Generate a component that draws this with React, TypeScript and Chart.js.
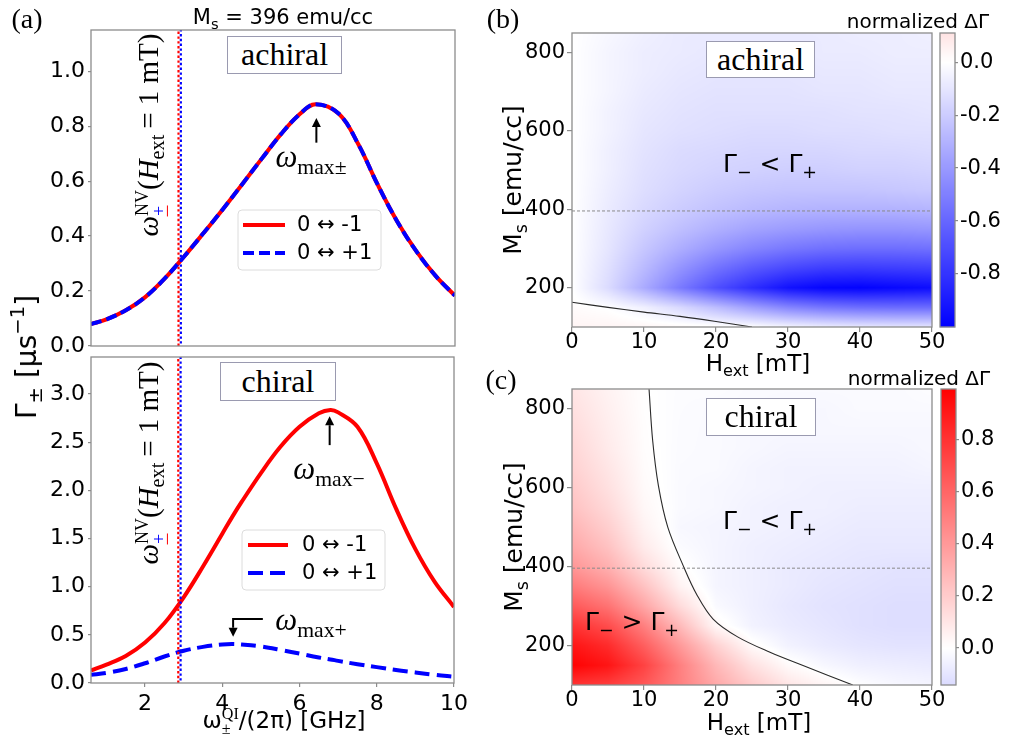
import React, { useEffect, useRef } from "react";
import { Chart, registerables } from "chart.js";

Chart.register(...registerables);

/* ======================= DATA ======================= */
// (a) upper panel: achiral — both transitions coincide
const freqAchiral = [0.6, 1, 1.5, 2, 2.5, 3, 3.5, 4, 4.5, 5, 5.5, 6, 6.4, 7, 7.5, 8, 8.5, 9, 9.5, 10];
const gammaAchiralMinus = [0.08, 0.097, 0.13, 0.178, 0.245, 0.325, 0.41, 0.497, 0.588, 0.68, 0.77, 0.845, 0.88, 0.845, 0.735, 0.588, 0.455, 0.345, 0.255, 0.183];
const gammaAchiralPlus = [0.08, 0.097, 0.13, 0.178, 0.245, 0.325, 0.41, 0.497, 0.588, 0.68, 0.77, 0.845, 0.88, 0.845, 0.735, 0.588, 0.455, 0.345, 0.255, 0.183];
// (a) lower panel: chiral
const freqChiral = [0.6, 1, 1.5, 2, 2.5, 3, 3.5, 4, 4.25, 4.5, 5, 5.5, 6, 6.5, 6.8, 7, 7.5, 8, 8.5, 9, 9.5, 10];
const gammaChiralMinus = [0.13, 0.19, 0.28, 0.42, 0.62, 0.89, 1.21, 1.55, 1.72, 1.88, 2.18, 2.45, 2.66, 2.8, 2.835, 2.81, 2.66, 2.28, 1.81, 1.39, 1.05, 0.79];
const gammaChiralPlus = [0.085, 0.105, 0.145, 0.205, 0.275, 0.335, 0.375, 0.4, 0.405, 0.4, 0.38, 0.345, 0.305, 0.265, 0.245, 0.23, 0.195, 0.165, 0.135, 0.11, 0.085, 0.065];
const nvFreqMinus = 2.86;
const nvFreqPlus = 2.92;
const freqRange = [0.6, 10];
const gammaTopRange = [0, 1.15];
const gammaBottomRange = [0, 3.385];
const freqTicks = [2, 4, 6, 8, 10];
const gammaTopTicks = [0, 0.2, 0.4, 0.6, 0.8, 1.0];
const gammaBottomTicks = [0, 0.5, 1, 1.5, 2, 2.5, 3];
const legendLabels = ["0 \u2194 -1", "0 \u2194 +1"];

// (b),(c) maps: normalized ΔΓ on an H_ext × M_s grid
const hField = [0, 5, 10, 15, 20, 25, 30, 35, 40, 45, 50];
const msValues = [100, 150, 200, 250, 300, 350, 400, 450, 500, 550, 600, 650, 700, 750, 800, 850];
const achiralDelta = [
  [0.04, 0.04, 0.035, 0.025, 0.015, 0.0, -0.04, -0.07, -0.09, -0.1, -0.1],
  [0.015, -0.005, -0.06, -0.15, -0.26, -0.38, -0.48, -0.54, -0.57, -0.58, -0.58],
  [0, -0.14, -0.33, -0.52, -0.69, -0.82, -0.93, -0.98, -0.99, -0.97, -0.95],
  [0, -0.12, -0.27, -0.42, -0.55, -0.65, -0.72, -0.76, -0.77, -0.76, -0.75],
  [0, -0.1, -0.22, -0.32, -0.41, -0.48, -0.53, -0.56, -0.57, -0.57, -0.56],
  [0, -0.09, -0.18, -0.25, -0.31, -0.36, -0.39, -0.41, -0.42, -0.42, -0.41],
  [0, -0.08, -0.15, -0.2, -0.24, -0.27, -0.29, -0.3, -0.3, -0.3, -0.29],
  [0, -0.07, -0.13, -0.17, -0.2, -0.22, -0.23, -0.23, -0.23, -0.22, -0.21],
  [0, -0.06, -0.12, -0.15, -0.17, -0.18, -0.19, -0.19, -0.18, -0.18, -0.17],
  [0, -0.06, -0.11, -0.14, -0.15, -0.16, -0.16, -0.16, -0.15, -0.15, -0.14],
  [0, -0.05, -0.1, -0.12, -0.13, -0.14, -0.14, -0.13, -0.13, -0.12, -0.12],
  [0, -0.05, -0.09, -0.11, -0.12, -0.12, -0.12, -0.12, -0.11, -0.11, -0.1],
  [0, -0.04, -0.08, -0.1, -0.11, -0.11, -0.11, -0.1, -0.1, -0.09, -0.09],
  [0, -0.04, -0.07, -0.09, -0.1, -0.1, -0.1, -0.09, -0.09, -0.08, -0.08],
  [0, -0.04, -0.07, -0.08, -0.09, -0.09, -0.09, -0.08, -0.08, -0.07, -0.07],
  [0, -0.03, -0.06, -0.08, -0.08, -0.08, -0.08, -0.08, -0.07, -0.07, -0.06],
];
const chiralDelta = [
  [0.8, 0.76, 0.66, 0.5, 0.34, 0.21, 0.1, 0.04, -0.005, -0.03, -0.04],
  [0.99, 0.92, 0.74, 0.5, 0.28, 0.12, 0.02, -0.03, -0.06, -0.07, -0.08],
  [0.92, 0.83, 0.63, 0.4, 0.18, 0.02, -0.05, -0.08, -0.1, -0.11, -0.11],
  [0.8, 0.7, 0.5, 0.27, 0.03, -0.05, -0.08, -0.1, -0.12, -0.13, -0.13],
  [0.65, 0.55, 0.35, 0.14, -0.02, -0.06, -0.09, -0.11, -0.12, -0.13, -0.13],
  [0.52, 0.42, 0.24, 0.05, -0.04, -0.06, -0.08, -0.1, -0.11, -0.12, -0.12],
  [0.41, 0.31, 0.14, 0.01, -0.04, -0.06, -0.08, -0.09, -0.1, -0.11, -0.11],
  [0.34, 0.24, 0.08, -0.015, -0.04, -0.06, -0.07, -0.08, -0.09, -0.09, -0.09],
  [0.29, 0.19, 0.05, -0.03, -0.04, -0.05, -0.06, -0.07, -0.08, -0.08, -0.08],
  [0.24, 0.15, 0.03, -0.02, -0.03, -0.05, -0.06, -0.06, -0.07, -0.07, -0.07],
  [0.21, 0.12, 0.02, -0.02, -0.03, -0.04, -0.05, -0.06, -0.06, -0.06, -0.06],
  [0.18, 0.1, 0.014, -0.018, -0.02, -0.04, -0.05, -0.05, -0.05, -0.05, -0.04],
  [0.16, 0.08, 0.01, -0.016, -0.02, -0.03, -0.04, -0.04, -0.04, -0.04, -0.03],
  [0.14, 0.07, 0.008, -0.015, -0.02, -0.03, -0.03, -0.03, -0.03, -0.03, -0.03],
  [0.12, 0.06, 0.005, -0.013, -0.02, -0.02, -0.03, -0.03, -0.02, -0.02, -0.02],
  [0.1, 0.05, 0.004, -0.012, -0.01, -0.02, -0.02, -0.02, -0.02, -0.02, -0.01],
];
// zero-contours (Γ− = Γ+)
const achiralZeroH = [0, 5, 10, 15, 20, 25];
const achiralZeroMs = [163, 150, 138, 127, 114, 100];
const chiralZeroH = [10.7, 11.2, 12.0, 13.3, 15.5, 17.3, 19.6, 23, 27.5, 32, 39];
const chiralZeroMs = [850, 720, 605, 500, 400, 330, 267, 222, 183, 150, 100];
const msMarker = 396;
const hRange = [0, 50];
const msRange = [100, 850];
const hTicks = [0, 10, 20, 30, 40, 50];
const msTicks = [200, 400, 600, 800];
const cbAchiralRange = [-1.0, 0.11];
const cbChiralRange = [-0.142, 0.996];
const cbAchiralTicks = [0, -0.2, -0.4, -0.6, -0.8];
const cbChiralTicks = [0, 0.2, 0.4, 0.6, 0.8];

/* ======================= STYLE / LAYOUT ======================= */
const AXIS_GREY = "#8c8c8c";
const SANS = "'DejaVu Sans', sans-serif";
const SERIF = "'Liberation Serif', 'DejaVu Serif', serif";
const RED = "#ff0000";
const BLUE = "#0000ff";

type Place = { left: number; top: number; width: number; height: number };
type Area = { l: number; t: number; r: number; b: number };

const PLACE_A_TOP: Place = { left: 0, top: 0, width: 474, height: 360 };
const AREA_A_TOP: Area = { l: 91, t: 30, r: 455, b: 357 };
const PLACE_A_BOT: Place = { left: 0, top: 340, width: 474, height: 403 };
const AREA_A_BOT: Area = { l: 91, t: 357, r: 455, b: 683 };
const PLACE_B: Place = { left: 480, top: 0, width: 472, height: 358 };
const AREA_B: Area = { l: 572, t: 33, r: 932, b: 327 };
const PLACE_C: Place = { left: 480, top: 362, width: 472, height: 381 };
const AREA_C: Area = { l: 572, t: 389, r: 932, b: 685 };
const PLACE_CB_B: Place = { left: 930, top: 0, width: 81, height: 340 };
const AREA_CB_B: Area = { l: 940, t: 33, r: 955, b: 327 };
const PLACE_CB_C: Place = { left: 930, top: 370, width: 81, height: 330 };
const AREA_CB_C: Area = { l: 941, t: 389, r: 956, b: 685 };

/* ======================= HELPERS ======================= */
function bwr(v: number): [number, number, number] {
  const t = Math.max(0, Math.min(1, (v + 1) / 2));
  if (t < 0.5) {
    const c = Math.round(510 * t);
    return [c, c, 255];
  }
  const c = Math.round(510 * (1 - t));
  return [255, c, c];
}

function locate(arr: number[], v: number) {
  const n = arr.length;
  if (v <= arr[0]) return { i: 0, t: 0 };
  if (v >= arr[n - 1]) return { i: n - 2, t: 1 };
  let i = 0;
  while (arr[i + 1] < v) i++;
  return { i, t: (v - arr[i]) / (arr[i + 1] - arr[i]) };
}

function sampleGrid(grid: number[][], x: number, y: number) {
  const a = locate(hField, x);
  const b = locate(msValues, y);
  const r0 = grid[b.i];
  const r1 = grid[b.i + 1];
  const v0 = r0[a.i] * (1 - a.t) + r0[a.i + 1] * a.t;
  const v1 = r1[a.i] * (1 - a.t) + r1[a.i + 1] * a.t;
  return v0 * (1 - b.t) + v1 * b.t;
}

const pts = (xs: number[], ys: number[]) => xs.map((x, i) => ({ x, y: ys[i] }));

const framePlugin = {
  id: "frame",
  afterDraw(chart: any) {
    const { left, top, right, bottom } = chart.chartArea;
    const ctx = chart.ctx;
    ctx.save();
    ctx.strokeStyle = AXIS_GREY;
    ctx.lineWidth = 1.3;
    ctx.strokeRect(left, top, right - left, bottom - top);
    ctx.restore();
  },
};

function heatPlugin(grid: number[][]) {
  return {
    id: "heat",
    beforeDatasetsDraw(chart: any) {
      const { left, top, right, bottom } = chart.chartArea;
      const w = Math.round(right - left);
      const h = Math.round(bottom - top);
      const off = document.createElement("canvas");
      off.width = w;
      off.height = h;
      const octx = off.getContext("2d")!;
      const img = octx.createImageData(w, h);
      const xs = chart.scales.x;
      const ys = chart.scales.y;
      for (let py = 0; py < h; py++) {
        const ms = ys.getValueForPixel(top + py + 0.5);
        for (let px = 0; px < w; px++) {
          const hv = xs.getValueForPixel(left + px + 0.5);
          const [r, g, b] = bwr(sampleGrid(grid, hv, ms));
          const k = (py * w + px) * 4;
          img.data[k] = r;
          img.data[k + 1] = g;
          img.data[k + 2] = b;
          img.data[k + 3] = 255;
        }
      }
      octx.putImageData(img, 0, 0);
      chart.ctx.drawImage(off, left, top, right - left, bottom - top);
    },
  };
}

const colorbarPlugin = {
  id: "cbar",
  beforeDatasetsDraw(chart: any) {
    const { left, top, right, bottom } = chart.chartArea;
    const ctx = chart.ctx;
    const ys = chart.scales.y;
    for (let y = top; y < bottom; y += 1) {
      const v = ys.getValueForPixel(y + 0.5);
      const [r, g, b] = bwr(v);
      ctx.fillStyle = `rgb(${r},${g},${b})`;
      ctx.fillRect(left, y, right - left, 1.2);
    }
  },
};

function tickScale(
  axis: "x" | "y",
  range: number[],
  ticks: number[],
  fmt: (v: number) => string,
  size: number,
  fontSize: number,
  opts: any = {}
) {
  return {
    type: "linear",
    position: opts.position || (axis === "x" ? "bottom" : "left"),
    min: range[0],
    max: range[1],
    display: opts.display === undefined ? true : opts.display,
    afterBuildTicks: (s: any) => {
      s.ticks = ticks.map((v) => ({ value: v }));
    },
    afterFit: (s: any) => {
      if (axis === "x") s.height = size;
      else s.width = size;
    },
    ticks: {
      display: opts.showLabels === undefined ? true : opts.showLabels,
      callback: (v: any) => fmt(Number(v)),
      font: { family: SANS, size: fontSize, lineHeight: 1 },
      color: "#000",
      padding: opts.padding === undefined ? 2 : opts.padding,
      maxRotation: 0,
      autoSkip: false,
    },
    grid: {
      display: opts.showGrid === undefined ? true : opts.showGrid,
      drawOnChartArea: false,
      drawTicks: true,
      tickLength: opts.tickLength || 4,
      color: AXIS_GREY,
      lineWidth: 1.2,
    },
    border: { display: false },
  };
}

function drawArrow(ctx: any, p: number[][]) {
  ctx.save();
  ctx.strokeStyle = "#000";
  ctx.fillStyle = "#000";
  ctx.lineWidth = 2;
  const n = p.length;
  const [x1, y1] = p[n - 1];
  const [x0, y0] = p[n - 2];
  const ang = Math.atan2(y1 - y0, x1 - x0);
  const hl = 9;
  const hw = 4.5;
  const bx = x1 - hl * Math.cos(ang);
  const by = y1 - hl * Math.sin(ang);
  ctx.beginPath();
  ctx.moveTo(p[0][0], p[0][1]);
  for (let i = 1; i < n - 1; i++) ctx.lineTo(p[i][0], p[i][1]);
  ctx.lineTo(bx, by);
  ctx.stroke();
  ctx.beginPath();
  ctx.moveTo(x1, y1);
  ctx.lineTo(bx + hw * Math.sin(ang), by - hw * Math.cos(ang));
  ctx.lineTo(bx - hw * Math.sin(ang), by + hw * Math.cos(ang));
  ctx.closePath();
  ctx.fill();
  ctx.restore();
}

function drawLegend(ctx: any, place: Place, box: { x: number; y: number; w: number; h: number }, lineX: number[], textX: number, rowY: number[], dash: number[]) {
  const ox = place.left;
  const oy = place.top;
  ctx.save();
  ctx.beginPath();
  const r = 4;
  const x = box.x - ox;
  const y = box.y - oy;
  ctx.moveTo(x + r, y);
  ctx.arcTo(x + box.w, y, x + box.w, y + box.h, r);
  ctx.arcTo(x + box.w, y + box.h, x, y + box.h, r);
  ctx.arcTo(x, y + box.h, x, y, r);
  ctx.arcTo(x, y, x + box.w, y, r);
  ctx.closePath();
  ctx.fillStyle = "rgba(255,255,255,0.85)";
  ctx.fill();
  ctx.strokeStyle = "#dcdcdc";
  ctx.lineWidth = 1;
  ctx.stroke();
  const colors = [RED, BLUE];
  const dashes = [[], dash];
  for (let i = 0; i < 2; i++) {
    ctx.beginPath();
    ctx.setLineDash(dashes[i]);
    ctx.strokeStyle = colors[i];
    ctx.lineWidth = 4;
    ctx.moveTo(lineX[0] - ox, rowY[i] - oy);
    ctx.lineTo(lineX[1] - ox, rowY[i] - oy);
    ctx.stroke();
  }
  ctx.setLineDash([]);
  ctx.fillStyle = "#000";
  ctx.font = `21px ${SANS}`;
  ctx.textBaseline = "middle";
  ctx.textAlign = "left";
  for (let i = 0; i < 2; i++) ctx.fillText(legendLabels[i], textX - ox, rowY[i] - oy + 1);
  ctx.restore();
}

function padding(place: Place, area: Area, bottom = 0) {
  return {
    left: 0,
    top: area.t - place.top,
    right: place.left + place.width - area.r,
    bottom,
  };
}

const fmt1 = (v: number) => v.toFixed(1);
const fmt0 = (v: number) => String(Math.round(v));

function lineChart(
  canvas: HTMLCanvasElement,
  place: Place,
  area: Area,
  freq: number[],
  minus: number[],
  plus: number[],
  yRange: number[],
  yTicks: number[],
  showX: boolean,
  dash: number[],
  extra: (ctx: any, chart: any) => void
) {
  const nvData = (f: number) => [
    { x: f, y: yRange[0] },
    { x: f, y: yRange[1] },
  ];
  const base = { showLine: true, pointRadius: 0, fill: false, tension: 0.38 };
  return new Chart(canvas, {
    type: "scatter",
    data: {
      datasets: [
        { ...base, tension: 0, data: nvData(nvFreqMinus), borderColor: RED, borderWidth: 2.2, borderDash: [2.4, 2.4], order: 0 },
        { ...base, tension: 0, data: nvData(nvFreqPlus), borderColor: BLUE, borderWidth: 2.2, borderDash: [2.4, 2.4], borderDashOffset: 2.4, order: 0 },
        { ...base, data: pts(freq, plus), borderColor: BLUE, borderWidth: 4, borderDash: dash, order: 1 },
        { ...base, data: pts(freq, minus), borderColor: RED, borderWidth: 4, order: 2 },
      ],
    } as any,
    options: {
      animation: false,
      responsive: false,
      events: [],
      layout: { padding: padding(place, area) },
      plugins: { legend: { display: false }, tooltip: { enabled: false } },
      scales: {
        x: tickScale("x", freqRange, freqTicks, fmt0, place.top + place.height - area.b, 22, {
          showLabels: showX,
          showGrid: showX,
          tickLength: 4,
          padding: 6,
        }),
        y: tickScale("y", yRange, yTicks, fmt1, area.l - place.left, 22, { tickLength: 3, padding: 3 }),
      },
    } as any,
    plugins: [
      framePlugin,
      {
        id: "annot",
        afterDraw(chart: any) {
          extra(chart.ctx, chart);
        },
      },
    ],
  } as any);
}

function heatChart(canvas: HTMLCanvasElement, place: Place, area: Area, grid: number[][], zh: number[], zm: number[]) {
  const base = { showLine: true, pointRadius: 0, fill: false };
  return new Chart(canvas, {
    type: "scatter",
    data: {
      datasets: [
        { ...base, data: pts(zh, zm), borderColor: "#2a2a2a", borderWidth: 1.1, tension: 0.35 },
        {
          ...base,
          data: [
            { x: hRange[0], y: msMarker },
            { x: hRange[1], y: msMarker },
          ],
          borderColor: "#8a8a8a",
          borderWidth: 1,
          borderDash: [3, 2],
        },
      ],
    } as any,
    options: {
      animation: false,
      responsive: false,
      events: [],
      layout: { padding: padding(place, area) },
      plugins: { legend: { display: false }, tooltip: { enabled: false } },
      scales: {
        x: tickScale("x", hRange, hTicks, fmt0, place.top + place.height - area.b, 21, { tickLength: 5, padding: 0 }),
        y: tickScale("y", msRange, msTicks, fmt0, area.l - place.left, 21, { tickLength: 5, padding: 2 }),
      },
    } as any,
    plugins: [heatPlugin(grid), framePlugin],
  } as any);
}

function colorbarChart(canvas: HTMLCanvasElement, place: Place, area: Area, range: number[], ticks: number[]) {
  return new Chart(canvas, {
    type: "scatter",
    data: { datasets: [] },
    options: {
      animation: false,
      responsive: false,
      events: [],
      layout: {
        padding: { left: area.l - place.left, top: area.t - place.top, right: 0, bottom: place.top + place.height - area.b },
      },
      plugins: { legend: { display: false }, tooltip: { enabled: false } },
      scales: {
        x: { type: "linear", display: false, min: 0, max: 1 },
        y: tickScale("y", range, ticks, fmt1, place.left + place.width - area.r, 21, {
          position: "right",
          tickLength: 3,
          padding: 2,
        }),
      },
    } as any,
    plugins: [colorbarPlugin, framePlugin],
  } as any);
}

/* ======================= COMPONENTS ======================= */
function ChartBox({ place, make }: { place: Place; make: (c: HTMLCanvasElement) => Chart }) {
  const ref = useRef<HTMLCanvasElement>(null);
  useEffect(() => {
    const ch = make(ref.current as HTMLCanvasElement);
    return () => ch.destroy();
  }, []);
  return (
    <canvas
      ref={ref}
      width={place.width}
      height={place.height}
      style={{ position: "absolute", left: place.left, top: place.top, width: place.width, height: place.height }}
    />
  );
}

function Label({ x, y, size, font = SANS, rotate = false, children, style = {} }: any) {
  return (
    <div
      style={{
        position: "absolute",
        left: x,
        top: y,
        transform: `translate(-50%, -50%)${rotate ? " rotate(-90deg)" : ""}`,
        fontSize: size,
        fontFamily: font,
        lineHeight: 1,
        whiteSpace: "nowrap",
        color: "#000",
        ...style,
      }}
    >
      {children}
    </div>
  );
}

const Sub = ({ children, style = {} }: any) => (
  <span style={{ fontSize: "0.7em", position: "relative", top: "0.32em", lineHeight: 0, ...style }}>{children}</span>
);
const Sup = ({ children }: any) => (
  <span style={{ fontSize: "0.7em", position: "relative", top: "-0.6em", lineHeight: 0 }}>{children}</span>
);
const Stack = ({ top, bottom, font, scale = 0.62 }: any) => (
  <span
    style={{
      display: "inline-flex",
      flexDirection: "column",
      alignItems: "flex-start",
      fontSize: `${scale}em`,
      lineHeight: 0.95,
      position: "relative",
      top: "-0.55em",
      fontFamily: font,
      verticalAlign: "baseline",
    }}
  >
    <span>{top}</span>
    <span>{bottom}</span>
  </span>
);
const PlusMinusNV = () => (
  <span style={{ display: "inline-block", color: BLUE, borderBottom: `0.11em solid ${RED}`, lineHeight: 0.75 }}>+</span>
);

function TagBox({ left, top, width, height, text }: any) {
  return (
    <div
      style={{
        position: "absolute",
        left,
        top,
        width,
        height,
        boxSizing: "border-box",
        border: "1.5px solid #9a9ab0",
        background: "#fff",
        display: "flex",
        alignItems: "center",
        justifyContent: "center",
        fontFamily: SERIF,
        fontSize: 32,
        lineHeight: 1,
        color: "#000",
      }}
    >
      <span style={{ position: "relative", top: -1 }}>{text}</span>
    </div>
  );
}

const NVLabel = () => (
  <>
    <i>ω</i>
    <Stack top="NV" bottom={<PlusMinusNV />} />
    (<i>H</i>
    <Sub>ext</Sub>
    {"\u2009= 1 mT)"}
  </>
);

export default function App() {
  return (
    <div style={{ position: "fixed", left: 0, top: 0, width: 1011, height: 743, background: "#fff", overflow: "hidden" }}>
      <ChartBox
        place={PLACE_A_TOP}
        make={(c) =>
          lineChart(c, PLACE_A_TOP, AREA_A_TOP, freqAchiral, gammaAchiralMinus, gammaAchiralPlus, gammaTopRange, gammaTopTicks, false, [11, 5], (ctx, ch) => {
            const X = (v: number) => ch.scales.x.getPixelForValue(v);
            const Y = (v: number) => ch.scales.y.getPixelForValue(v);
            drawArrow(ctx, [
              [X(6.42), Y(0.74)],
              [X(6.42), Y(0.83)],
            ]);
            drawLegend(ctx, PLACE_A_TOP, { x: 238, y: 210, w: 143, h: 60 }, [243, 285], 297, [225, 253], [11, 5]);
          })
        }
      />
      <ChartBox
        place={PLACE_A_BOT}
        make={(c) =>
          lineChart(c, PLACE_A_BOT, AREA_A_BOT, freqChiral, gammaChiralMinus, gammaChiralPlus, gammaBottomRange, gammaBottomTicks, true, [15, 7], (ctx, ch) => {
            const X = (v: number) => ch.scales.x.getPixelForValue(v);
            const Y = (v: number) => ch.scales.y.getPixelForValue(v);
            drawArrow(ctx, [
              [X(6.78), Y(2.47)],
              [X(6.78), Y(2.77)],
            ]);
            drawArrow(ctx, [
              [X(5.05), Y(0.665)],
              [X(4.28), Y(0.665)],
              [X(4.28), Y(0.48)],
            ]);
            drawLegend(ctx, PLACE_A_BOT, { x: 242, y: 530, w: 143, h: 60 }, [248, 288], 302, [545, 573], [15, 7]);
          })
        }
      />
      <ChartBox place={PLACE_CB_B} make={(c) => colorbarChart(c, PLACE_CB_B, AREA_CB_B, cbAchiralRange, cbAchiralTicks)} />
      <ChartBox place={PLACE_CB_C} make={(c) => colorbarChart(c, PLACE_CB_C, AREA_CB_C, cbChiralRange, cbChiralTicks)} />
      <ChartBox place={PLACE_B} make={(c) => heatChart(c, PLACE_B, AREA_B, achiralDelta, achiralZeroH, achiralZeroMs)} />
      <ChartBox place={PLACE_C} make={(c) => heatChart(c, PLACE_C, AREA_C, chiralDelta, chiralZeroH, chiralZeroMs)} />

      {/* panel (a) texts */}
      <Label x={27} y={19} size={28} font={SERIF}>(a)</Label>
      <Label x={283} y={17} size={21}>
        M<Sub>s</Sub> = 396 emu/cc
      </Label>
      <TagBox left={227} top={36} width={115} height={38} text="achiral" />
      <TagBox left={220} top={362} width={116} height={39} text="chiral" />
      <Label x={156} y={135} size={29} font={SERIF} rotate>
        <NVLabel />
      </Label>
      <Label x={156} y={463} size={29} font={SERIF} rotate>
        <NVLabel />
      </Label>
      <Label x={311} y={156} size={31} font={SERIF}>
        <i>ω</i>
        <Sub>max±</Sub>
      </Label>
      <Label x={329} y={468} size={31} font={SERIF}>
        <i>ω</i>
        <Sub>max−</Sub>
      </Label>
      <Label x={311} y={619} size={31} font={SERIF}>
        <i>ω</i>
        <Sub>max+</Sub>
      </Label>
      <Label x={27} y={357} size={28} rotate>
        Γ<Sub>±</Sub> [μs<Sup>−1</Sup>]
      </Label>
      <Label x={284} y={727} size={23}>
        ω<Stack top="QI" bottom="±" font={SERIF} scale={0.7} />/(2π) [GHz]
      </Label>

      {/* panel (b) texts */}
      <Label x={503} y={19} size={28} font={SERIF}>(b)</Label>
      <Label x={918} y={21} size={20}>normalized ΔΓ</Label>
      <TagBox left={706} top={41} width={109} height={37} text="achiral" />
      <Label x={770} y={163} size={25}>
        Γ<Sub>−</Sub> &lt; Γ<Sub>+</Sub>
      </Label>
      <Label x={512} y={180} size={25} rotate>
        M<Sub>s</Sub> [emu/cc]
      </Label>
      <Label x={758} y={363} size={23}>
        H<Sub>ext</Sub> [mT]
      </Label>

      {/* panel (c) texts */}
      <Label x={501} y={380} size={28} font={SERIF}>(c)</Label>
      <Label x={919} y={378} size={20}>normalized ΔΓ</Label>
      <TagBox left={706} top={398} width={110} height={38} text="chiral" />
      <Label x={770} y={520} size={25}>
        Γ<Sub>−</Sub> &lt; Γ<Sub>+</Sub>
      </Label>
      <Label x={632} y={621} size={25}>
        Γ<Sub>−</Sub> &gt; Γ<Sub>+</Sub>
      </Label>
      <Label x={513} y={537} size={25} rotate>
        M<Sub>s</Sub> [emu/cc]
      </Label>
      <Label x={759} y={722} size={23}>
        H<Sub>ext</Sub> [mT]
      </Label>
    </div>
  );
}
